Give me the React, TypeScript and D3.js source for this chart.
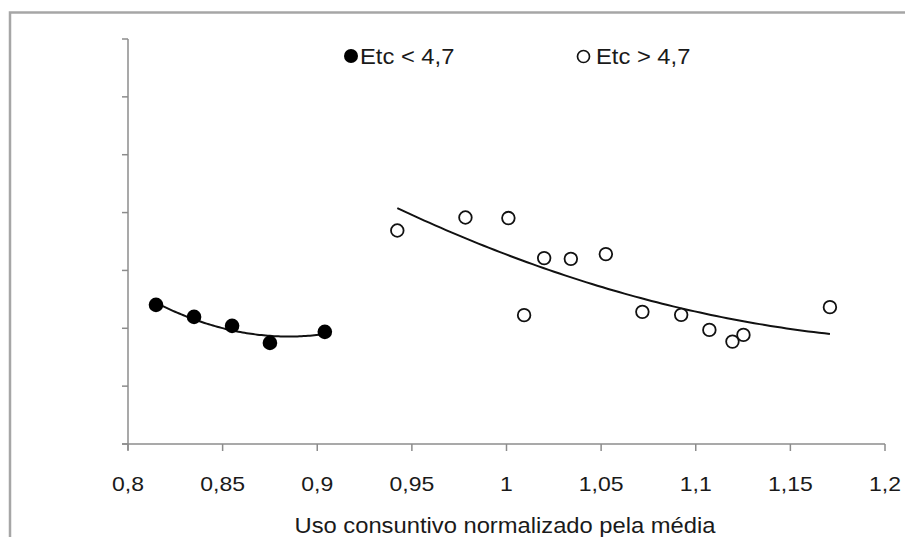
import { useEffect, useRef } from 'react';
import * as d3 from 'd3';

// Etc < 4,7 (filled markers)
const lowX = [0.8148, 0.8349, 0.855, 0.875, 0.904];
const lowY = [2.405, 2.197, 2.042, 1.747, 1.938];

// Etc > 4,7 (open markers)
const highX = [0.9423, 0.9783, 1.001, 1.0093, 1.0199, 1.034, 1.0525, 1.0718, 1.0923, 1.1072, 1.1194, 1.1252, 1.1709];
const highY = [3.69, 3.915, 3.905, 2.227, 3.213, 3.2, 3.282, 2.284, 2.232, 1.972, 1.77, 1.886, 2.365];

const xTicks = [0.8, 0.85, 0.9, 0.95, 1, 1.05, 1.1, 1.15, 1.2];
const yTicks = [0, 1, 2, 3, 4, 5, 6, 7];

const legendLabels = ['Etc < 4,7', 'Etc > 4,7'];
const xTitle = 'Uso consuntivo normalizado pela média';

// least squares, 2nd order polynomial (like the spreadsheet trendline)
function quadFit(xs: number[], ys: number[]) {
  const s = [0, 0, 0, 0, 0];
  const t = [0, 0, 0];
  xs.forEach((x, i) => {
    for (let k = 0; k < 5; k++) s[k] += Math.pow(x, k);
    for (let k = 0; k < 3; k++) t[k] += Math.pow(x, k) * ys[i];
  });
  const m = [
    [s[0], s[1], s[2], t[0]],
    [s[1], s[2], s[3], t[1]],
    [s[2], s[3], s[4], t[2]],
  ];
  for (let c = 0; c < 3; c++) {
    for (let r = c + 1; r < 3; r++) {
      const f = m[r][c] / m[c][c];
      for (let k = c; k < 4; k++) m[r][k] -= f * m[c][k];
    }
  }
  const b = [0, 0, 0];
  for (let r = 2; r >= 0; r--) {
    let v = m[r][3];
    for (let k = r + 1; k < 3; k++) v -= m[r][k] * b[k];
    b[r] = v / m[r][r];
  }
  return (x: number) => b[0] + b[1] * x + b[2] * x * x;
}

export default function App() {
  const svgRef = useRef<SVGSVGElement>(null);

  useEffect(() => {
    if (!svgRef.current) return;
    const svg = d3.select(svgRef.current);
    svg.selectAll('*').remove();

    const font = '"Liberation Sans", Arial, sans-serif';
    const textColor = '#1a1a1a';
    const axisColor = '#8c8c8c';

    const x = d3.scaleLinear().domain([0.8, 1.2]).range([128, 885]);
    const y = d3.scaleLinear().domain([0, 7]).range([444, 39]);

    // chart area border (top + left visible)
    svg.append('path')
      .attr('d', 'M10,540 V12.5 H910')
      .attr('fill', 'none')
      .attr('stroke', '#a6a6a6')
      .attr('stroke-width', 2.5);

    // y axis
    const yAxis = svg.append('g').attr('transform', `translate(${x(0.8)},0)`);
    yAxis.append('line')
      .attr('y1', y(7)).attr('y2', y(0) + 6)
      .attr('stroke', axisColor).attr('stroke-width', 1.5);
    yAxis.selectAll('line.tick')
      .data(yTicks)
      .enter()
      .append('line')
      .attr('class', 'tick')
      .attr('x1', -6).attr('x2', 0)
      .attr('y1', d => y(d)).attr('y2', d => y(d))
      .attr('stroke', axisColor).attr('stroke-width', 1.5);

    // x axis
    const xAxis = svg.append('g').attr('transform', `translate(0,${y(0)})`);
    xAxis.append('line')
      .attr('x1', x(0.8) - 6).attr('x2', x(1.2))
      .attr('stroke', axisColor).attr('stroke-width', 1.5);
    xAxis.selectAll('line.tick')
      .data(xTicks)
      .enter()
      .append('line')
      .attr('class', 'tick')
      .attr('x1', d => x(d)).attr('x2', d => x(d))
      .attr('y1', 0).attr('y2', 7)
      .attr('stroke', axisColor).attr('stroke-width', 1.5);
    xAxis.selectAll('text')
      .data(xTicks)
      .enter()
      .append('text')
      .attr('transform', d => `translate(${x(d)},47) scale(1.15,1)`)
      .attr('text-anchor', 'middle')
      .attr('font-family', font)
      .attr('font-size', 20)
      .attr('fill', textColor)
      .text(d => String(d).replace('.', ','));

    svg.append('text')
      .attr('transform', 'translate(505,533) scale(1.08,1)')
      .attr('text-anchor', 'middle')
      .attr('font-family', font)
      .attr('font-size', 22)
      .attr('fill', textColor)
      .text(xTitle);

    // trendlines
    const line = d3.line<number>().x(d => x(d)).y(d => y(fit(d)));
    let fit = quadFit(lowX, lowY);
    const lx0 = d3.min(lowX)!, lx1 = d3.max(lowX)!;
    svg.append('path')
      .attr('d', line(d3.range(81).map(i => lx0 + (lx1 - lx0) * i / 80)))
      .attr('fill', 'none').attr('stroke', '#111').attr('stroke-width', 2);
    fit = quadFit(highX, highY);
    const hx0 = d3.min(highX)!, hx1 = d3.max(highX)!;
    svg.append('path')
      .attr('d', line(d3.range(81).map(i => hx0 + (hx1 - hx0) * i / 80)))
      .attr('fill', 'none').attr('stroke', '#111').attr('stroke-width', 2);

    // points
    svg.append('g').selectAll('circle')
      .data(lowX.map((v, i) => [v, lowY[i]]))
      .enter()
      .append('circle')
      .attr('cx', d => x(d[0])).attr('cy', d => y(d[1]))
      .attr('r', 7.3)
      .attr('fill', '#000');
    svg.append('g').selectAll('circle')
      .data(highX.map((v, i) => [v, highY[i]]))
      .enter()
      .append('circle')
      .attr('cx', d => x(d[0])).attr('cy', d => y(d[1]))
      .attr('r', 6.3)
      .attr('fill', '#fff')
      .attr('stroke', '#111')
      .attr('stroke-width', 1.8);

    // legend
    const leg = svg.append('g').attr('font-family', font).attr('font-size', 22).attr('fill', textColor);
    leg.append('circle').attr('cx', 351).attr('cy', 56).attr('r', 7).attr('fill', '#000');
    leg.append('text').attr('transform', 'translate(360,64) scale(1.08,1)').text(legendLabels[0]);
    leg.append('circle').attr('cx', 583.5).attr('cy', 56.5).attr('r', 6)
      .attr('fill', '#fff').attr('stroke', '#111').attr('stroke-width', 1.7);
    leg.append('text').attr('transform', 'translate(596,64) scale(1.08,1)').text(legendLabels[1]);
  }, []);

  return (
    <svg
      ref={svgRef}
      width={905}
      height={537}
      style={{ position: 'absolute', left: 0, top: 0, background: '#fff' }}
    />
  );
}
